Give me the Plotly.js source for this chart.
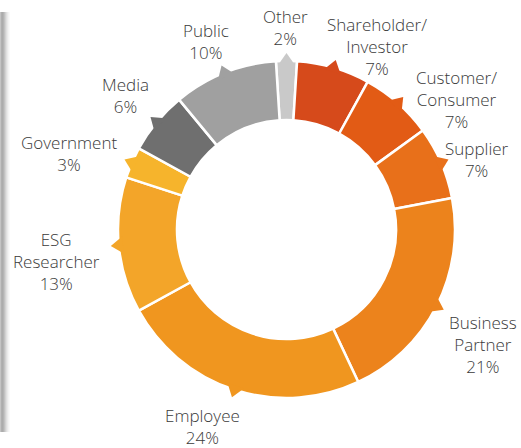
<!DOCTYPE html>
<html>
<head>
<meta charset="utf-8">
<script src="https://cdn.plot.ly/plotly-3.0.1.min.js"></script>
<style>
  body { margin: 0; background: #fff; }
  #chart { width: 521px; height: 448px; }
</style>
</head>
<body>
<div id="chart"></div>
<script>
// stakeholder groups, clockwise from 12 o'clock
const groups = ["Other", "Shareholder/<br>Investor", "Customer/<br>Consumer", "Supplier",
  "Business<br>Partner", "Employee", "ESG<br>Researcher", "Government", "Media", "Public"];
const shares = [2, 7, 7, 7, 21, 24, 13, 3, 6, 10];

const sliceColors = ["#c9c9c9", "#d64a1b", "#e25b15", "#e8701a", "#ec831c",
  "#f0961f", "#f3a529", "#f6b42c", "#6f6f6f", "#a0a0a0"];
// where each label sits relative to its pointer tip (px)
const labelOffsets = [[-1, -25], [41, -14], [53, 2], [29, 0], [39, 35],
  [-29, 29], [-54, 15], [-56, -6], [-25, -21], [-16, -24]];

const W = 521, H = 448;
const cx = 286.5, cy = 229.5, rOut = 168.5, hole = 0.65;
const total = shares.reduce((a, b) => a + b, 0);
// "Other" is centred on 12 o'clock
const startAngle = -shares[0] / total * 180;

const px = x => x / W;
const py = y => 1 - y / H;
function polar(r, deg) {
  const a = deg * Math.PI / 180;
  return [cx + r * Math.sin(a), cy - r * Math.cos(a)];
}

const shapes = [];
const annotations = [];

// soft shadow strip on the left edge
const strip = ["#c4c4c4", "#b0b0b0", "#acacac", "#b4b4b4", "#c2c2c2", "#d2d2d2", "#e0e0e0", "#ebebeb", "#f4f4f4", "#fafafa"];
strip.forEach((c, k) => {
  shapes.push({type: "rect", xref: "paper", yref: "paper",
    x0: px(k), x1: px(k + 1), y0: py(432), y1: py(12),
    fillcolor: c, line: {width: 0}, layer: "below"});
});

let acc = startAngle;
shares.forEach((v, i) => {
  const mid = acc + v / total * 180;
  acc += v / total * 360;
  // little pointer on the outer edge of each slice
  const b1 = polar(rOut - 4, mid - 3), b2 = polar(rOut - 4, mid + 3), tip = polar(rOut + 8, mid);
  shapes.push({type: "path", xref: "paper", yref: "paper",
    path: `M${px(b1[0])},${py(b1[1])} L${px(tip[0])},${py(tip[1])} L${px(b2[0])},${py(b2[1])} Z`,
    fillcolor: sliceColors[i], line: {width: 0}, layer: "above"});
  annotations.push({
    xref: "paper", yref: "paper", x: px(tip[0]), y: py(tip[1]),
    xanchor: "center", yanchor: "middle",
    xshift: labelOffsets[i][0], yshift: -labelOffsets[i][1],
    text: `${groups[i]}<br>${v}%`, showarrow: false, align: "center",
    font: {family: "Open Sans", size: 17, color: "#3a3a3a", weight: 300}
  });
});

const trace = {
  type: "pie",
  labels: groups,
  values: shares,
  sort: false,
  direction: "clockwise",
  rotation: startAngle,
  hole: hole,
  textinfo: "none",
  hoverinfo: "none",
  marker: {colors: sliceColors, line: {color: "#ffffff", width: 2.5}},
  domain: {x: [px(cx - rOut), px(cx + rOut)], y: [py(cy + rOut), py(cy - rOut)]}
};

const layout = {
  width: W, height: H,
  margin: {l: 0, r: 0, t: 0, b: 0},
  paper_bgcolor: "#ffffff",
  showlegend: false,
  shapes: shapes,
  annotations: annotations
};

Plotly.newPlot("chart", [trace], layout, {displayModeBar: false, staticPlot: true});
</script>
</body>
</html>
